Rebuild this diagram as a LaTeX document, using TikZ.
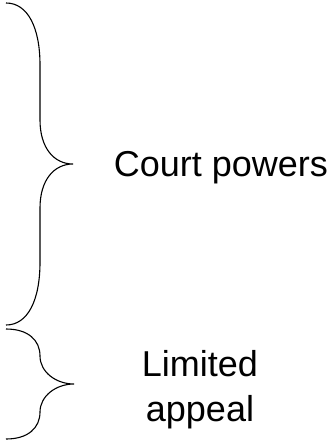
\documentclass[tikz,border=0pt]{standalone}
\usepackage{fontspec}
\setmainfont{Liberation Sans}
\begin{document}
\begin{tikzpicture}[x=1pt,y=-1pt,
  brace/.style={draw=black,line width=1.1pt},
  lbl/.style={font=\fontsize{36}{45}\selectfont,inner sep=0pt,align=center,anchor=base}]
\useasboundingbox (0,0) rectangle (334,443);
% big brace
\coordinate (bt) at (6,3);
\coordinate (tip1) at (73,164);
\coordinate (bb) at (6,325);
\draw[brace] (bt) .. controls (28,3) and (40,28) .. (40,65) -- (40,120)
  .. controls (40,148) and (54,164) .. (tip1)
  .. controls (54,164) and (40,180) .. (40,208) -- (40,262)
  .. controls (40,300) and (28,325) .. (bb);
% small brace
\coordinate (st) at (6,329);
\coordinate (tip2) at (74,384);
\coordinate (sb) at (6,439);
\draw[brace] (st) .. controls (28,329) and (40,340) .. (40,356)
  .. controls (40,372) and (56,384) .. (tip2)
  .. controls (56,384) and (40,396) .. (40,412)
  .. controls (40,428) and (28,439) .. (sb);
\node[lbl] (court) at (221,177) {Court powers};
\node[lbl] (lim) at (200,376) {Limited};
\node[lbl] (app) at (200,421) {appeal};
\end{tikzpicture}
\end{document}
